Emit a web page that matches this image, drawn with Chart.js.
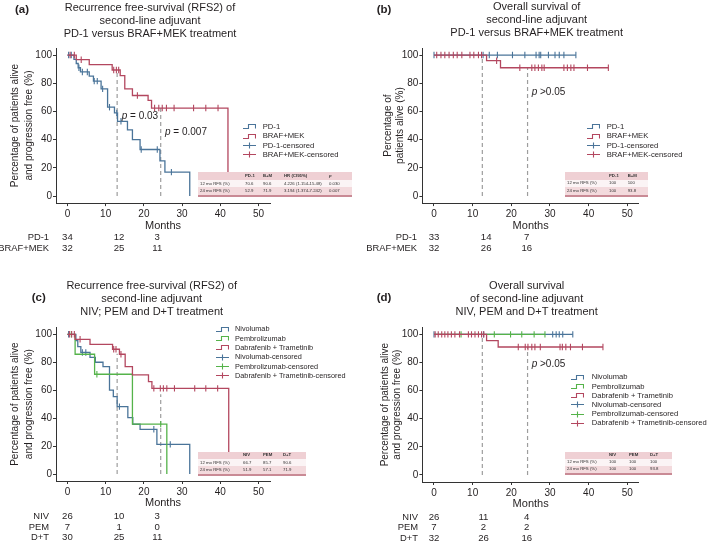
<!DOCTYPE html>
<html>
<head>
<meta charset="utf-8">
<script src="https://cdn.jsdelivr.net/npm/chart.js@4.4.1/dist/chart.umd.min.js"></script>
<style>
body{margin:0;background:#fff;font-family:"Liberation Sans",Arial,sans-serif;color:#231f20}
#page{position:relative;width:709px;height:542px;overflow:hidden}
canvas{position:absolute}
.t{position:absolute;white-space:nowrap;line-height:1}
.tb{position:absolute}
</style>
</head>
<body>
<div id="page">
  <canvas id="ca" width="354" height="270" style="left:0;top:0"></canvas>
  <canvas id="cb" width="354" height="270" style="left:355px;top:0"></canvas>
  <canvas id="cc" width="354" height="272" style="left:0;top:270px"></canvas>
  <canvas id="cd" width="354" height="272" style="left:355px;top:270px"></canvas>
</div>
<script>
const BLUE = '#4a7499', RED = '#b3475f', GREEN = '#55b34a', DASH = '#9d9d9d', AX = '#333', TXT = '#231f20';
const FONT = '"Liberation Sans", Arial, Helvetica, sans-serif';
const xTicks = [0, 10, 20, 30, 40, 50];
const yTicks = [0, 20, 40, 60, 80, 100];

// (a) RFS2, PD-1 vs BRAF+MEK
const aPd1Time = [0, 1.7, 2.3, 2.8, 3.4, 5.7, 6.8, 8.8, 10.5, 12.3, 13.1, 15.7, 17, 19, 24.2, 25.5, 32];
const aPd1Surv = [100, 97, 94, 91, 88, 85, 81.5, 76, 63, 59, 53, 47, 40, 33, 25, 17, 0];
const aPd1Cens = [0.3, 1, 3.0, 3.9, 5.2, 7.0, 7.8, 9.2, 11, 12.9, 14, 19.3, 23.5, 27.2];
const aBrafTime = [0, 2.3, 5.7, 11.7, 13.8, 15, 17, 21.1, 22, 42];
const aBrafSurv = [100, 96.7, 93.2, 89.4, 85.4, 76, 71.3, 67.8, 62.4, 0];
const aBrafCens = [0.7, 1.8, 3.6, 12.1, 12.8, 13.4, 18.3, 22.8, 23.9, 24.8, 25.9, 27.9, 33, 36.2, 39.4];
const aCut = [13, 24.4], aCutTop = [89.4, 62.4];

// (b) OS, PD-1 vs BRAF+MEK
const bPd1Time = [0, 36.7], bPd1Surv = [100, 100];
const bPd1Cens = [0, 12.7, 14.3, 16.4, 20.3, 23.5, 26.4, 27.2, 27.6, 29.6, 31.3, 32.4, 33.6, 36.7];
const bBrafTime = [0, 13.6, 17.2, 45.1], bBrafSurv = [100, 96, 91, 91];
const bBrafCens = [0.7, 1.8, 2.8, 3.9, 5, 6, 7.2, 9.3, 10.3, 11.5, 12.3, 16.2, 22.2, 25.3, 26.1, 27, 27.9, 28.5, 33.6, 34.5, 35.4, 36.2, 39.7, 45.1];
const bCut = [12.5, 24.2], bCutTop = [100, 91];

// (c) RFS2, NIV / PEM / D+T
const cNivTime = [0, 2.2, 2.7, 3.5, 5.9, 7.3, 9.3, 11, 12, 13, 15.8, 17.1, 19, 23.4, 32];
const cNivSurv = [100, 95.5, 91.2, 87, 83.5, 80, 76.8, 60, 55.4, 48.2, 40.3, 35.6, 32, 21.2, 0];
const cNivCens = [0.3, 3.9, 4.8, 13.6, 22.6, 26.9];
const cPemTime = [0, 2, 7.1, 17, 26], cPemSurv = [100, 85.7, 71.4, 35.7, 0];
const cPemCens = [1, 7.7, 24.4];
const cDtTime = [0, 2, 5.9, 11.8, 13.6, 15.1, 17, 21.2, 22.1, 42.2];
const cDtSurv = [100, 96.4, 92.8, 89.3, 85.7, 76.8, 70.9, 66.1, 61.3, 0];
const cDtCens = [0.5, 1.1, 1.8, 3.3, 12.1, 12.7, 14, 22.6, 24.3, 25.1, 26, 28, 33.3, 36.2, 39.3];
const cCut = [13, 24.4], cCutTop = [86, 57];

// (d) OS, NIV / PEM / D+T
const dNivTime = [0, 35.9], dNivSurv = [100, 100];
const dNivCens = [0, 12.8, 30.7, 31.6, 32.4, 33.3, 35.9];
const dPemTime = [0, 28.7], dPemSurv = [100, 100];
const dPemCens = [7, 15.6, 19.8, 22.7, 25.9, 28.7];
const dDtTime = [0, 13.6, 16.6, 43.7], dDtSurv = [100, 95.5, 91, 91];
const dDtCens = [0.3, 1.1, 2, 2.8, 3.6, 4.5, 5.4, 6.6, 8.9, 9.7, 10.6, 11.5, 12.3, 12.9, 21.8, 23.6, 24.3, 25.3, 26.1, 27.5, 32.6, 33.2, 34.1, 35.3, 38.4, 43.7];
const dCut = [12.5, 24.2], dCutTop = [100, 91];

// numbers at risk
const abRiskLabels = ['PD-1', 'BRAF+MEK'];
const cdRiskLabels = ['NIV', 'PEM', 'D+T'];
const aRiskTimes = [0, 13.5, 23.5], aRisk = [[34, 12, 3], [32, 25, 11]];
const bRiskTimes = [0, 13.5, 24], bRisk = [[33, 14, 7], [32, 26, 16]];
const cRiskTimes = [0, 13.5, 23.5], cRisk = [[26, 10, 3], [7, 1, 0], [30, 25, 11]];
const dRiskTimes = [0, 12.8, 24], dRisk = [[26, 11, 4], [7, 2, 2], [32, 26, 16]];

// summary tables
const aTabHead = ['', 'PD-1', 'B+M', 'HR (CI95%)', 'p'];
const aTabRows = [['12 mo RFS (%)', '70.6', '90.6', '4.226 (1.154-15.48)', '0.030'], ['24 mo RFS (%)', '52.9', '71.9', '3.194 (1.374-7.242)', '0.007']];
const bTabHead = ['', 'PD-1', 'B+M'];
const bTabRows = [['12 mo RFS (%)', '100', '100'], ['24 mo RFS (%)', '100', '93.8']];
const cTabHead = ['', 'NIV', 'PEM', 'D+T'];
const cTabRows = [['12 mo RFS (%)', '66.7', '85.7', '90.6'], ['24 mo RFS (%)', '51.9', '57.1', '71.9']];
const dTabHead = ['', 'NIV', 'PEM', 'D+T'];
const dTabRows = [['12 mo RFS (%)', '100', '100', '100'], ['24 mo RFS (%)', '100', '100', '93.8']];

const abLegend = ['PD-1', 'BRAF+MEK', 'PD-1-censored', 'BRAF+MEK-censored'];
const cdLegend = ['Nivolumab', 'Pembrolizumab', 'Dabrafenib + Trametinib', 'Nivolumab-censored', 'Pembrolizumab-censored', 'Dabrafenib + Trametinib-censored'];

function survAt(times, surv, t) {
  let v = surv[0];
  for (let i = 0; i < times.length; i++) if (times[i] <= t) v = surv[i];
  return v;
}
function curve(times, surv, color) {
  return {data: times.map((t, i) => ({x: t, y: surv[i]})), stepped: true, borderColor: color,
    borderWidth: 1.3, pointRadius: 0, fill: false};
}
function censor(times, surv, cens, color) {
  return {data: cens.map(t => ({x: t, y: survAt(times, surv, t)})), showLine: false, pointStyle: 'line',
    rotation: 90, pointRadius: 3.2, pointBorderWidth: 1.1, borderColor: color, pointBorderColor: color, backgroundColor: color};
}
function cutLines(cuts, tops) {
  return cuts.map((c, i) => ({data: [{x: c, y: 0}, {x: c, y: tops[i]}], borderColor: DASH, borderWidth: 1.2,
    borderDash: [4, 3], pointRadius: 0, fill: false}));
}

function makeChart(id, datasets, pad, yw, xh, yTitle, yLH) {
  return new Chart(document.getElementById(id), {
    type: 'line',
    data: {datasets},
    options: {
      responsive: false, animation: false, devicePixelRatio: 1,
      layout: {padding: pad},
      plugins: {legend: {display: false}, tooltip: {enabled: false}},
      scales: {
        x: {
          type: 'linear', min: -3, max: 53,
          afterBuildTicks: s => { s.ticks = xTicks.map(v => ({value: v})); },
          afterFit: s => { s.height = xh; },
          grid: {drawOnChartArea: false, tickLength: 3, tickColor: AX},
          border: {color: AX, width: 1},
          ticks: {color: TXT, font: {family: FONT, size: 10}, padding: 2, maxRotation: 0, autoSkip: false},
          title: {display: true, text: 'Months', color: TXT, font: {family: FONT, size: 11, lineHeight: 1.2}, padding: 0}
        },
        y: {
          type: 'linear', min: -5, max: 105,
          afterBuildTicks: s => { s.ticks = yTicks.map(v => ({value: v})); },
          afterFit: s => { s.width = yw; },
          grid: {drawOnChartArea: false, tickLength: 3, tickColor: AX},
          border: {color: AX, width: 1},
          ticks: {color: TXT, font: {family: FONT, size: 10}, padding: 1},
          title: {display: true, text: yTitle, color: TXT, font: {family: FONT, size: 10, lineHeight: yLH}, padding: 0}
        }
      }
    }
  });
}

const yRFS = ['Percentage of patients alive', 'and progression free (%)'];

const chA = makeChart('ca', [
  curve(aBrafTime, aBrafSurv, RED), censor(aBrafTime, aBrafSurv, aBrafCens, RED),
  curve(aPd1Time, aPd1Surv, BLUE), censor(aPd1Time, aPd1Surv, aPd1Cens, BLUE),
  ...cutLines(aCut, aCutTop)
], {left: 8, top: 48, right: 84, bottom: 37.4}, 48, 29.5, yRFS, 1.4);

const chB = makeChart('cb', [
  curve(bBrafTime, bBrafSurv, RED), censor(bBrafTime, bBrafSurv, bBrafCens, RED),
  curve(bPd1Time, bPd1Surv, BLUE), censor(bPd1Time, bPd1Surv, bPd1Cens, BLUE),
  ...cutLines(bCut, bCutTop)
], {left: 27, top: 48, right: 70.1, bottom: 37.4}, 40.4, 29.5, ['Percentage of', 'patients alive (%)'], 1.2);

const chC = makeChart('cc', [
  curve(cDtTime, cDtSurv, RED), censor(cDtTime, cDtSurv, cDtCens, RED),
  curve(cPemTime, cPemSurv, GREEN), censor(cPemTime, cPemSurv, cPemCens, GREEN),
  curve(cNivTime, cNivSurv, BLUE), censor(cNivTime, cNivSurv, cNivCens, BLUE),
  ...cutLines(cCut, cCutTop)
], {left: 8, top: 57.3, right: 84, bottom: 32.1}, 48, 28.9, yRFS, 1.4);

const chD = makeChart('cd', [
  curve(dDtTime, dDtSurv, RED), censor(dDtTime, dDtSurv, dDtCens, RED),
  curve(dPemTime, dPemSurv, GREEN), censor(dPemTime, dPemSurv, dPemCens, GREEN),
  curve(dNivTime, dNivSurv, BLUE), censor(dNivTime, dNivSurv, dNivCens, BLUE),
  ...cutLines(dCut, dCutTop)
], {left: 23.6, top: 57.3, right: 70.1, bottom: 31.1}, 43.8, 28.9, yRFS, 1.27);

// ---- HTML overlays ----
const page = document.getElementById('page');
function put(html, css) {
  const d = document.createElement('div');
  d.className = 't';
  d.innerHTML = html;
  Object.assign(d.style, css);
  page.appendChild(d);
  return d;
}

// panel letters
[['(a)', 15, 10], ['(b)', 376.7, 10], ['(c)', 31.7, 298.3], ['(d)', 376.7, 298.3]].forEach(([s, x, y]) =>
  put(s, {left: x + 'px', top: y + 'px', transform: 'translateY(-50%)', fontWeight: 'bold', fontSize: '11.5px'}));

// titles
function title(lines, cx, y0) {
  lines.forEach((l, i) => put(l, {left: cx + 'px', top: (y0 + i * 13) + 'px', transform: 'translate(-50%,-50%)', fontSize: '11px'}));
}
title(['Recurrence free-survival (RFS2) of', 'second-line adjuvant', 'PD-1 versus BRAF+MEK treatment'], 150, 6.7);
title(['Overall survival of', 'second-line adjuvant', 'PD-1 versus BRAF+MEK treatment'], 536.7, 6.3);
title(['Recurrence free-survival (RFS2) of', 'second-line adjuvant', 'NIV; PEM and D+T treatment'], 151.7, 285);
title(['Overall survival', 'of second-line adjuvant', 'NIV, PEM and D+T treatment'], 526.7, 285);

// p values
[['<i>p</i> = 0.03', 121.7, 115.7], ['<i>p</i> = 0.007', 165, 131.7], ['<i>p</i> &gt;0.05', 531.7, 91.7], ['<i>p</i> &gt;0.05', 531.7, 364.3]]
  .forEach(([s, x, y]) => put(s, {left: x + 'px', top: y + 'px', transform: 'translateY(-50%)', fontSize: '10px'}));

// legends
function icon(kind, color) {
  const d = kind === 's' ? 'M0 5.5H5.5V1.5H12.5V5.5' : 'M0 3.5H13M6.5 0.5V6.5';
  return `<svg width="13" height="7" style="display:block"><path d="${d}" stroke="${color}" stroke-width="1.1" fill="none"/></svg>`;
}
function legend(names, colors, kinds, iconX, textX, y0, step, size) {
  names.forEach((n, i) => {
    const y = y0 + i * step;
    put(icon(kinds[i], colors[i]), {left: iconX + 'px', top: (y - 3.5) + 'px'});
    put(n, {left: textX + 'px', top: y + 'px', transform: 'translateY(-50%)', fontSize: size + 'px'});
  });
}
legend(abLegend, [BLUE, RED, BLUE, RED], ['s', 's', 'c', 'c'], 243, 262.7, 126.7, 9.4, 7.7);
legend(abLegend, [BLUE, RED, BLUE, RED], ['s', 's', 'c', 'c'], 587, 606.7, 126.7, 9.4, 7.7);
legend(cdLegend, [BLUE, GREEN, RED, BLUE, GREEN, RED], ['s', 's', 's', 'c', 'c', 'c'], 216, 235, 329.3, 9.3, 7.3);
legend(cdLegend, [BLUE, GREEN, RED, BLUE, GREEN, RED], ['s', 's', 's', 'c', 'c', 'c'], 571, 591.7, 377.3, 9.2, 7.6);

// numbers at risk
function riskTable(chart, offX, labels, times, counts, labelRight, y0, step) {
  labels.forEach((l, r) => {
    const y = y0 + r * step;
    put(l, {left: (labelRight - 100) + 'px', width: '100px', textAlign: 'right', top: y + 'px', transform: 'translateY(-50%)', fontSize: '9.4px'});
    times.forEach((t, c) => {
      const x = offX + chart.scales.x.getPixelForValue(t);
      put(String(counts[r][c]), {left: x + 'px', top: y + 'px', transform: 'translate(-50%,-50%)', fontSize: '9.6px'});
    });
  });
}
riskTable(chA, 0, abRiskLabels, aRiskTimes, aRisk, 49, 237, 11);
riskTable(chB, 355, abRiskLabels, bRiskTimes, bRisk, 417, 237.3, 11);
riskTable(chC, 0, cdRiskLabels, cRiskTimes, cRisk, 49, 515.7, 10.8);
riskTable(chD, 355, cdRiskLabels, dRiskTimes, dRisk, 418, 516.7, 10.5);

// summary tables
function sumTable(left, top, width, rowH, colX, head, rows) {
  const bgs = ['#efd0d4', '#fbf4f5', '#f3dadd'];
  [head, ...rows].forEach((row, r) => {
    const bg = document.createElement('div');
    bg.className = 'tb';
    Object.assign(bg.style, {left: left + 'px', top: (top + r * rowH) + 'px', width: width + 'px', height: rowH + 'px', background: bgs[r]});
    page.appendChild(bg);
    row.forEach((s, c) => {
      if (!s) return;
      const txt = (r === 0 && s === 'p') ? '<i>p</i>' : s;
      put(txt, {left: colX[c] + 'px', top: (top + r * rowH + rowH / 2) + 'px', transform: 'translateY(-50%)', fontSize: '4.3px', color: '#333', fontWeight: r === 0 ? 'bold' : 'normal'});
    });
  });
  const line = document.createElement('div');
  line.className = 'tb';
  Object.assign(line.style, {left: left + 'px', top: (top + 3 * rowH) + 'px', width: width + 'px', height: '2px', background: '#c98a95'});
  page.appendChild(line);
}
sumTable(198, 172, 154, 7.7, [200, 245, 263, 284, 329], aTabHead, aTabRows);
sumTable(565, 172, 83.3, 7.5, [567, 609, 627.7], bTabHead, bTabRows);
sumTable(198, 451.7, 107.7, 7.3, [200, 243, 263, 283], cTabHead, cTabRows);
sumTable(565, 451.7, 107.3, 7, [567, 609, 629, 650], dTabHead, dTabRows);
</script>
</body>
</html>
